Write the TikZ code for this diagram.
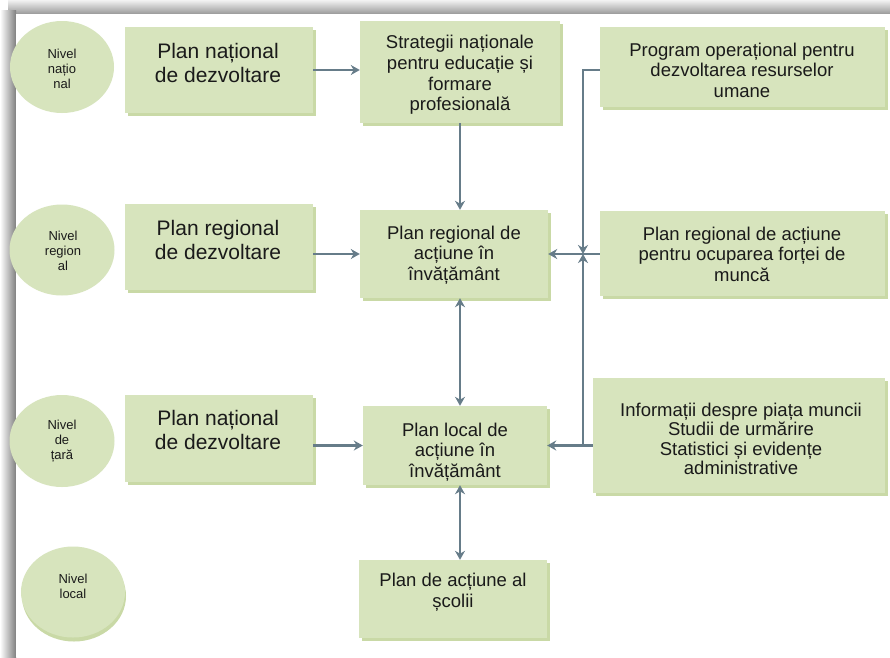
\documentclass[tikz,border=0pt]{standalone}
\usepackage{fontspec}
\setmainfont{Liberation Sans}
\usetikzlibrary{arrows.meta,shadows,shapes.geometric}
\definecolor{boxgreen}{HTML}{D7E4BD}
\definecolor{shadowgreen}{HTML}{C9D9A6}
\definecolor{linecol}{HTML}{667C89}
\definecolor{txt}{HTML}{1A1A1A}
\tikzset{
  box/.style={rectangle, fill=boxgreen, draw=none, inner sep=0pt,
    drop shadow={shadow xshift=3pt, shadow yshift=-3pt, fill=shadowgreen, opacity=1}},
  lvl/.style={ellipse, fill=boxgreen, draw=none, inner sep=0pt},
  lvltext/.style={align=center, text=txt, font=\fontsize{13}{15.3}\selectfont},
  bigtext/.style={align=center, text=txt, font=\fontsize{21}{24}\selectfont},
  midtext/.style={align=center, text=txt, font=\fontsize{18.5}{20.6}\selectfont},
  conn/.style={draw=linecol, line width=2.4pt, -{Stealth[length=9pt,width=10pt]}},
  conntwo/.style={draw=linecol, line width=2.4pt, {Stealth[length=9pt,width=10pt]}-{Stealth[length=9pt,width=10pt]}}
}
\begin{document}
\begin{tikzpicture}[x=1pt,y=-1pt]
\useasboundingbox (0,0) rectangle (890,657);
\fill[white] (0,0) rectangle (890,657);
% frame shadow
\shade[top color=white!95!black, bottom color=black!40] (8,0) rectangle (890,14);
\shade[left color=white, right color=black!50] (0,10) rectangle (16,657);
\fill[white] (16,14) rectangle (890,657);

% level ellipses
\node[lvl, minimum width=104, minimum height=92] (E1) at (62,67) {};
\node[lvl, minimum width=105, minimum height=91] (E2) at (62,250) {};
\node[lvl, minimum width=105, minimum height=92] (E3) at (62,441) {};
\node[lvl, minimum width=104, minimum height=91,
  drop shadow={shadow xshift=1pt, shadow yshift=-4pt, fill=shadowgreen, opacity=1}] (E4) at (73,592) {};

% boxes
\node[box, minimum width=188, minimum height=86] (B1) at (219,70) {};
\node[box, minimum width=188, minimum height=86] (B2) at (219,247) {};
\node[box, minimum width=188, minimum height=87] (B3) at (219,438) {};
\node[box, minimum width=200, minimum height=102] (M1) at (460,72) {};
\node[box, minimum width=188, minimum height=88] (M2) at (454,254) {};
\node[box, minimum width=184, minimum height=79] (M3) at (455,445.5) {};
\node[box, minimum width=188, minimum height=78] (M4) at (453,599) {};
\node[box, minimum width=285, minimum height=80] (R1) at (742.5,67) {};
\node[box, minimum width=285, minimum height=85] (R2) at (742.5,253.5) {};
\node[box, minimum width=292, minimum height=115] (R3) at (739,435.5) {};

% connectors
\coordinate (cx) at (460,0);
\coordinate (bus) at (583,0);
\coordinate (J) at (bus |- M2.east);
\draw[conn] (B1.east) -- (B1.east -| M1.west);
\draw[conn] (B2.east |- M2.west) -- (M2.west);
\draw[conn] (B3.east |- M3.west) -- (M3.west);
\draw[conn] (M1.south -| cx) -- (M2.north -| cx);
\draw[conntwo] (M2.south -| cx) -- (M3.north -| cx);
\draw[conntwo] (M3.south -| cx) -- (M4.north -| cx);
\draw[conn] ([yshift=-3pt]R1.west) -| (J);
\draw[conn] (R3.west |- M3.east) -| (J);
\draw[conn] (R2.west |- M2.east) -- (M2.east);
\draw[conn] (R3.west |- M3.east) -- (M3.east);

% texts
\node[lvltext] (E1t) at (62,69) {Nivel\\națio\\nal};
\node[lvltext] (E2t) at (63,251) {Nivel\\region\\al};
\node[lvltext] (E3t) at (62,441) {Nivel\\de\\țară};
\node[lvltext] (E4t) at (73,586) {Nivel\\local};

\node[bigtext] (B1t) at (218,63) {Plan național\\de dezvoltare};
\node[bigtext] (B2t) at (218,240) {Plan regional\\de dezvoltare};
\node[bigtext] (B3t) at (218,430) {Plan național\\de dezvoltare};

\node[midtext] (M1t) at (460,75) {Strategii naționale\\pentru educație și\\formare\\profesională};
\node[midtext] (M2t) at (454,255) {Plan regional de\\acțiune în\\învățământ};
\node[midtext] (M3t) at (455,452) {Plan local de\\acțiune în\\învățământ};
\node[midtext] (M4t) at (453,592) {Plan de acțiune al\\școlii};

\node[midtext] (R1t) at (742,70) {Program operațional pentru\\dezvoltarea resurselor\\umane};
\node[midtext] (R2t) at (742,254) {Plan regional de acțiune\\pentru ocuparea forței de\\muncă};
\node[midtext, font=\fontsize{18.5}{19.5}\selectfont] (R3t) at (741,439) {Informații despre piața muncii\\Studii de urmărire\\Statistici și evidențe\\administrative};
\end{tikzpicture}
\end{document}
